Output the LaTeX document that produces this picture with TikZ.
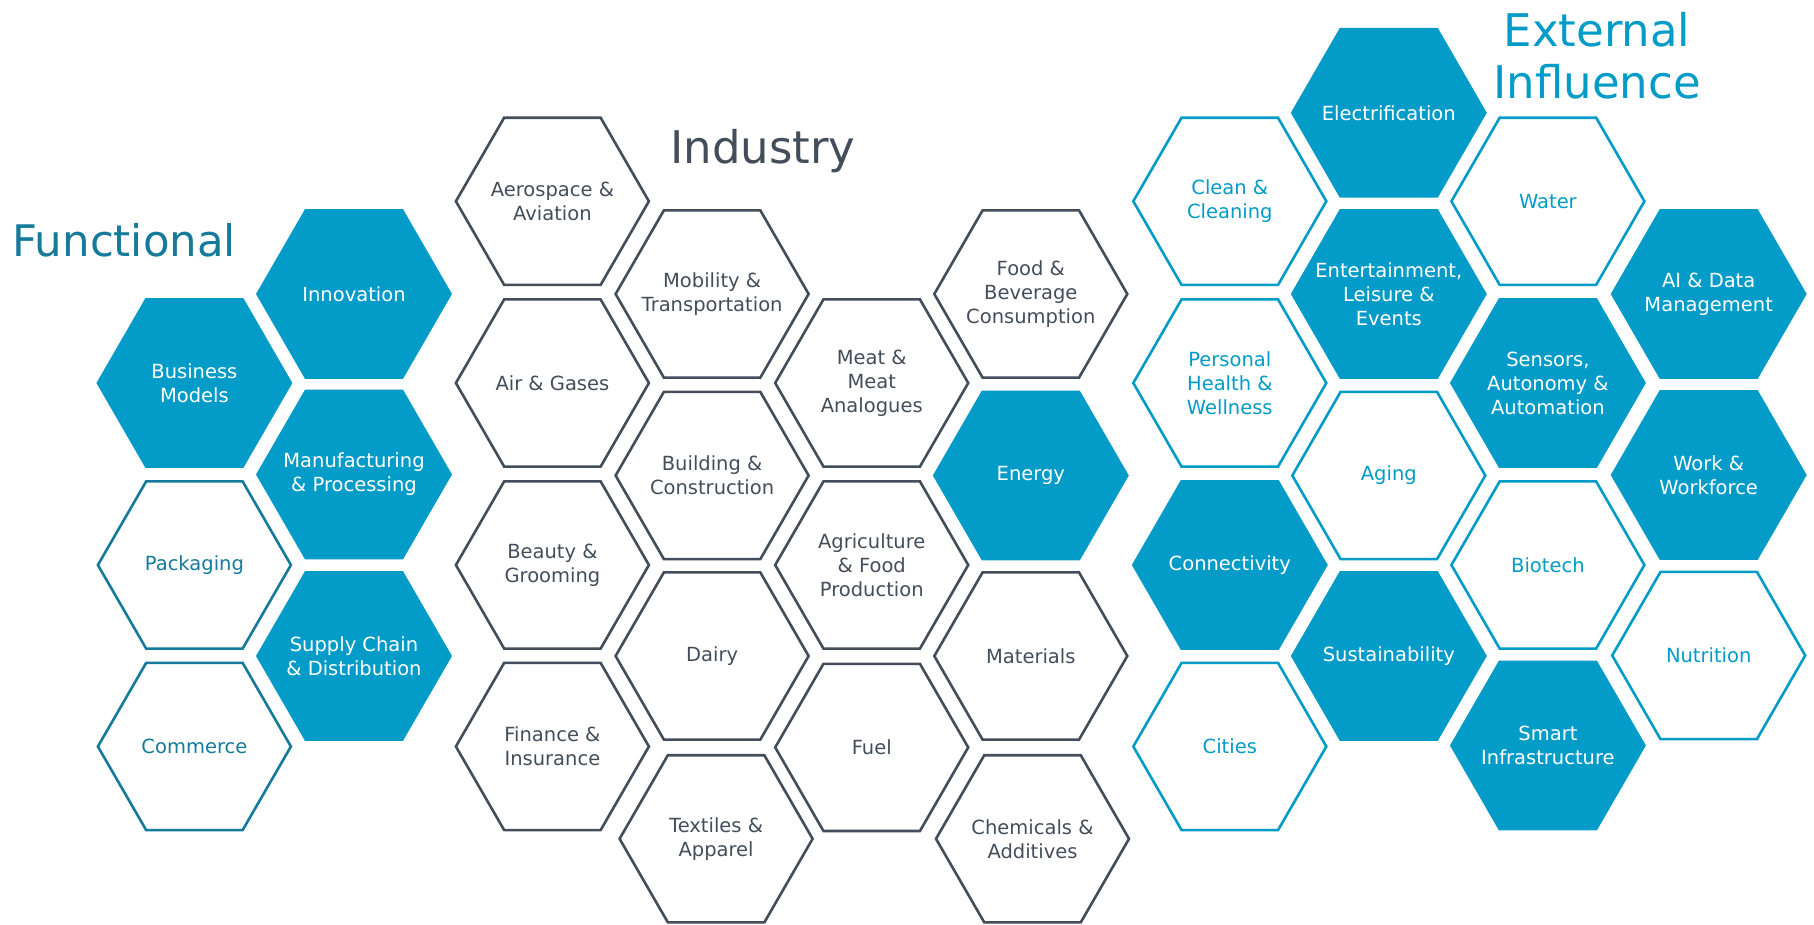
\documentclass[tikz,border=0pt]{standalone}
\usepackage{fontspec}
\setmainfont{DejaVu Sans}
\usetikzlibrary{shapes.geometric}
\definecolor{lblue}{HTML}{039BC7}
\definecolor{fteal}{HTML}{167A9A}
\definecolor{igray}{HTML}{434E5A}
\tikzset{
 hexbase/.style={shape=regular polygon, regular polygon sides=6, inner sep=0pt, outer sep=0pt},
 hexfill/.style={hexbase, minimum size=196pt, fill=lblue, draw=none},
 hexline/.style={hexbase, minimum size=193pt, draw=#1, line width=2.6pt, fill=white},
 hextext/.style={text=#1, align=center, font=\fontsize{19.5}{24}\selectfont, inner sep=0pt},
 titletext/.style={font=\fontsize{45}{53}\selectfont, text=#1, inner sep=0pt}
}
\newcommand\HexFill[4]{\node[hexfill] (#1) at (#2,#3) {}; \node[hextext=white] (#1-t) at (#1) {#4};}
\newcommand\HexLine[5]{\node[hexline=#5] (#1) at (#2,#3) {}; \node[hextext=#5] (#1-t) at (#1) {#4};}
\begin{document}
\begin{tikzpicture}[x=1pt,y=-1pt]
\fill[white] (0,0) rectangle (1814,925);
\useasboundingbox (0,0) rectangle (1814,925);
% titles
\node[titletext=fteal, anchor=base west, font=\fontsize{43.5}{52}\selectfont] (functional) at (12,257) {Functional};
\node[titletext=igray, anchor=base west] (industry) at (670,163.5) {Industry};
\node[titletext=lblue, anchor=base] (external1) at (1597,47) {External};
\node[titletext=lblue, anchor=base] (external2) at (1597,99) {Influence};
% functional
\HexFill{bm}{194.4}{383}{Business\\Models}
\HexFill{inn}{354}{294}{Innovation}
\HexFill{mfg}{354}{474.5}{Manufacturing\\\& Processing}
\HexLine{pkg}{194.4}{565}{Packaging}{fteal}
\HexFill{sc}{354}{656}{Supply Chain\\\& Distribution}
\HexLine{com}{194.4}{746.5}{Commerce}{fteal}
% industry
\HexLine{aero}{552.4}{201.3}{Aerospace \&\\Aviation}{igray}
\HexLine{air}{552.4}{383}{Air \& Gases}{igray}
\HexLine{beauty}{552.4}{565}{Beauty \&\\Grooming}{igray}
\HexLine{fin}{552.4}{746.5}{Finance \&\\Insurance}{igray}
\HexLine{mob}{712.1}{294}{Mobility \&\\Transportation}{igray}
\HexLine{bld}{712.1}{475.5}{Building \&\\Construction}{igray}
\HexLine{dairy}{712.1}{656}{Dairy}{igray}
\HexLine{tex}{716.1}{838.8}{Textiles \&\\Apparel}{igray}
\HexLine{meat}{871.7}{383}{Meat \&\\Meat\\Analogues}{igray}
\HexLine{agri}{871.7}{565}{Agriculture\\\& Food\\Production}{igray}
\HexLine{fuel}{871.7}{747.4}{Fuel}{igray}
\HexLine{food}{1030.8}{294}{Food \&\\Beverage\\Consumption}{igray}
\HexFill{energy}{1030.8}{475.5}{Energy}
\HexLine{mat}{1030.8}{656}{Materials}{igray}
\HexLine{chem}{1032.5}{838.8}{Chemicals \&\\Additives}{igray}
% external
\HexLine{clean}{1229.8}{201.3}{Clean \&\\Cleaning}{lblue}
\HexLine{phw}{1229.8}{383}{Personal\\Health \&\\Wellness}{lblue}
\HexFill{conn}{1229.8}{565}{Connectivity}
\HexLine{cities}{1229.8}{746.5}{Cities}{lblue}
\HexFill{elec}{1388.8}{112.8}{Electrification}
\HexFill{ent}{1388.8}{294}{Entertainment,\\Leisure \&\\Events}
\HexLine{aging}{1388.8}{475.5}{Aging}{lblue}
\HexFill{sust}{1388.8}{656}{Sustainability}
\HexLine{water}{1547.9}{201.3}{Water}{lblue}
\HexFill{sens}{1547.9}{383}{Sensors,\\Autonomy \&\\Automation}
\HexLine{bio}{1547.9}{565}{Biotech}{lblue}
\HexFill{smart}{1547.9}{745.5}{Smart\\Infrastructure}
\HexFill{ai}{1708.7}{294}{AI \& Data\\Management}
\HexFill{work}{1708.7}{475}{Work \&\\Workforce}
\HexLine{nut}{1708.7}{655.5}{Nutrition}{lblue}
\end{tikzpicture}
\end{document}
